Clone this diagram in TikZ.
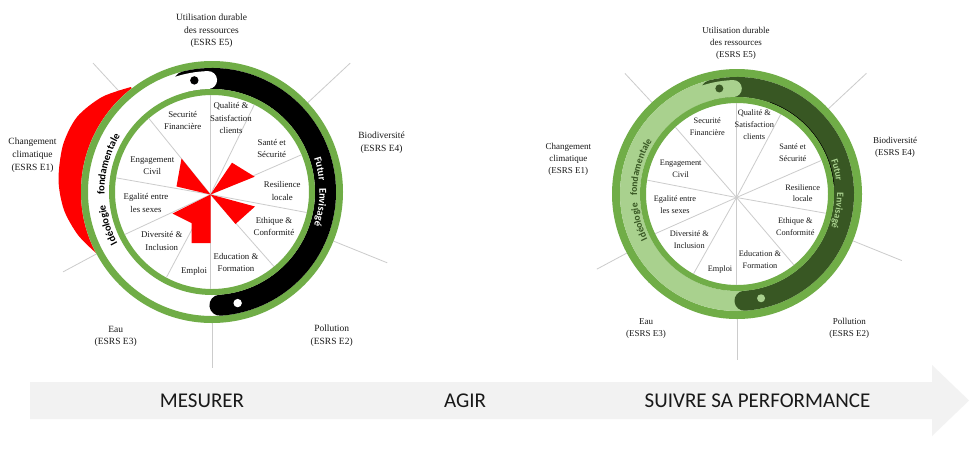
\documentclass[tikz,border=0pt]{standalone}
\usepackage{fontspec}
\setmainfont{Liberation Serif}
\newfontfamily\carl{Carlito}
\usetikzlibrary{decorations.text,calc}
\definecolor{ringgreen}{RGB}{112,173,71}
\definecolor{lightband}{RGB}{169,209,142}
\definecolor{darkband}{RGB}{56,87,35}
\definecolor{spokecol}{RGB}{204,204,204}
\definecolor{arrowfill}{RGB}{242,242,242}
\definecolor{inktext}{RGB}{25,25,25}
\newcommand\bandfA{\carl\bfseries\fontsize{10.5}{12}\selectfont}
\newcommand\bandfB{\carl\bfseries\fontsize{9.8}{12}\selectfont}
\tikzset{
 spokeline/.style={draw=spokecol, line width=0.8pt},
 esrsA/.style={align=center, inner sep=0pt, text=inktext, font=\fontsize{9.5}{12.7}\selectfont},
 esrsB/.style={align=center, inner sep=0pt, text=inktext, font=\fontsize{9}{12}\selectfont},
 innA/.style={align=center, inner sep=0pt, text=inktext, font=\fontsize{8.8}{12.4}\selectfont},
 innB/.style={align=center, inner sep=0pt, text=inktext, font=\fontsize{8.3}{11.8}\selectfont},
 stage/.style={inner sep=0pt, text=inktext, font=\carl\fontsize{21}{24}\selectfont},
}
\begin{document}
\begin{tikzpicture}[x=1pt,y=1pt]
\useasboundingbox (0,0) rectangle (980,-448);
\fill[white] (0,0) rectangle (980,-448);

%% ================= LEFT WHEEL =================
\coordinate (L) at (212,-192);
\coordinate (Ls) at (210.5,-194.5);
\foreach \a/\r in {132.7/175.5,43/189,-22/189,208.2/169,270/176}
  \draw[spokeline] (L) -- ++(\a:\r);
% red crescent
\fill[red] plot[smooth] coordinates {(131,-87) (102,-97) (77,-117) (63,-145) (58.5,-180) (64,-210) (78,-235) (96,-253)} -- (180,-190) -- cycle;
\fill[white] (L) circle (131);
\draw[ringgreen, line width=7pt] (L) circle (127.5);
% snake band
\draw[black, line width=21pt, line cap=round] ($(L)+(104:113.5)$) arc[start angle=104, end angle=-86, radius=113.5];
\draw[white, line width=18pt, line cap=round] ($(L)+(125:112)$) arc[start angle=125, end angle=92, radius=112];
\fill[black] ($(L)+(99:113)$) circle (4.2);
\fill[white] ($(L)+(-77:114)$) circle (4.2);
\draw[ringgreen, line width=6pt] (L) circle (100);
% spokes
\begin{scope}
\clip (L) circle (97);
\foreach \a in {90,64,23.6,-10.6,-48.6,-90,-118,-155,170,129}
  \draw[spokeline] (Ls) -- ++(\a:120);
\end{scope}
% red chart
\fill[red] (Ls) -- (181.5,-158.5) -- (176.5,-186.5) -- cycle;
\fill[red] (Ls) -- (232,-162.7) -- (254.7,-176.7) -- cycle;
\fill[red] (Ls) -- (255,-206.5) -- (235.5,-224) -- cycle;
\fill[red] (Ls) -- (172.5,-213.5) -- (191.5,-223) -- (191.5,-243) -- (210.5,-243) -- cycle;
% outer labels
\node[esrsA] (utilL) at (211.5,-31) {Utilisation durable\\des ressources\\(ESRS E5)};
\node[esrsA] (bioL) at (381.5,-142.5) {Biodiversité\\(ESRS E4)};
\node[esrsA] (chgL) at (32.5,-155.3) {Changement\\climatique\\(ESRS E1)};
\node[esrsA] (eauL) at (115.7,-336.3) {Eau\\(ESRS E3)};
\node[esrsA] (polL) at (331.7,-335.7) {Pollution\\(ESRS E2)};
% inner labels
\node[innA] (qualL) at (231,-118.3) {Qualité \&\\Satisfaction\\clients};
\node[innA] (secL) at (182.7,-120.7) {Securité\\Financière};
\node[innA] (santL) at (271.7,-148.3) {Santé et\\Sécurité};
\node[innA] (engL) at (152.3,-165.5) {Engagement\\Civil};
\node[innA] (resL) at (282.3,-190.8) {Resilience\\locale};
\node[innA] (egaL) at (146,-203) {Egalité entre\\les sexes};
\node[innA] (ethL) at (274,-226.2) {Ethique \&\\Conformité};
\node[innA] (divL) at (161.7,-240.8) {Diversité \&\\Inclusion};
\node[innA] (eduL) at (236,-262.2) {Education \&\\Formation};
\node[innA] (empL) at (194,-271.7) {Emploi};
% band texts
\path[decorate, decoration={text along path, text={|\bandfA|Idéologie}, text align=center, text color=black}]
  ($(L)+(232.7:107.5)$) arc[start angle=232.7, end angle=162.7, radius=107.5];
\path[decorate, decoration={text along path, text={|\bandfA|fondamentale}, text align=center, text color=black}]
  ($(L)+(205:107.5)$) arc[start angle=205, end angle=125, radius=107.5];
\path[decorate, decoration={text along path, text={|\bandfA|Futur}, text align=center, text color=white}]
  ($(L)+(47:107.5)$) arc[start angle=47, end angle=-23, radius=107.5];
\path[decorate, decoration={text along path, text={|\bandfA|Envisagé}, text align=center, text color=white}]
  ($(L)+(27:107.5)$) arc[start angle=27, end angle=-43, radius=107.5];

%% ================= RIGHT WHEEL =================
\coordinate (R) at (737,-194);
\coordinate (Rs) at (736.5,-197.5);
\foreach \a/\r in {132.9/164.6,43/177,-22/177.7,208.2/159,270/166}
  \draw[spokeline] (R) -- ++(\a:\r);
\fill[white] (R) circle (125);
\draw[ringgreen, line width=8pt] (R) circle (121);
\draw[lightband, line width=20pt] (R) circle (107);
\draw[darkband, line width=20pt, line cap=round] ($(R)+(104:107)$) arc[start angle=104, end angle=-86, radius=107];
\draw[lightband, line width=17pt, line cap=round] ($(R)+(125:105.5)$) arc[start angle=125, end angle=92, radius=105.5];
\fill[darkband] ($(R)+(99.5:107)$) circle (4);
\fill[lightband] ($(R)+(-77:107)$) circle (4);
\draw[black, line width=0.7pt] ($(R)+(70:97.4)$) arc[start angle=70, end angle=5, radius=97.4];
\draw[ringgreen, line width=6pt] (R) circle (94);
\begin{scope}
\clip (R) circle (91);
\foreach \a in {90,62,23.6,-10,-49.6,-90,-119.4,-156,169,131}
  \draw[spokeline] (Rs) -- ++(\a:120);
\end{scope}
% outer labels
\node[esrsB] (utilR) at (736,-43) {Utilisation durable\\des ressources\\(ESRS E5)};
\node[esrsB] (bioR) at (895,-147.5) {Biodiversité\\(ESRS E4)};
\node[esrsB] (chgR) at (568.3,-159.2) {Changement\\climatique\\(ESRS E1)};
\node[esrsB] (eauR) at (646,-328.5) {Eau\\(ESRS E3)};
\node[esrsB] (polR) at (849.3,-328.3) {Pollution\\(ESRS E2)};
% inner labels
\node[innB] (qualR) at (754.3,-124.8) {Qualité \&\\Satisfaction\\clients};
\node[innB] (secR) at (707.3,-126.3) {Securité\\Financière};
\node[innB] (santR) at (792.7,-152.5) {Santé et\\Sécurité};
\node[innB] (engR) at (680.7,-168.7) {Engagement\\Civil};
\node[innB] (resR) at (802.7,-193.2) {Resilience\\locale};
\node[innB] (egaR) at (675,-204.8) {Egalité entre\\les sexes};
\node[innB] (ethR) at (795.3,-226.5) {Ethique \&\\Conformité};
\node[innB] (divR) at (689.3,-240) {Diversité \&\\Inclusion};
\node[innB] (eduR) at (760,-259.3) {Education \&\\Formation};
\node[innB] (empR) at (720,-269.3) {Emploi};
% band texts
\path[decorate, decoration={text along path, text={|\bandfB|Idéologie}, text align=center, text color=darkband}]
  ($(R)+(231:100)$) arc[start angle=231, end angle=161, radius=100];
\path[decorate, decoration={text along path, text={|\bandfB|fondamentale}, text align=center, text color=darkband}]
  ($(R)+(204.5:100)$) arc[start angle=204.5, end angle=124.5, radius=100];
\path[decorate, decoration={text along path, text={|\bandfB|Futur}, text align=center, text color=lightband}]
  ($(R)+(48.5:100)$) arc[start angle=48.5, end angle=-21.5, radius=100];
\path[decorate, decoration={text along path, text={|\bandfB|Envisagé}, text align=center, text color=lightband}]
  ($(R)+(25.5:100)$) arc[start angle=25.5, end angle=-44.5, radius=100];

%% ================= ARROW =================
\fill[arrowfill] (30,-382) -- (932,-382) -- (932,-365) -- (969,-400.5) -- (932,-436) -- (932,-419) -- (30,-419) -- cycle;
\node[stage] (mesurer) at (202,-400.5) {MESURER};
\node[stage] (agir) at (465,-400.5) {AGIR};
\node[stage] (suivre) at (757.5,-400.5) {SUIVRE SA PERFORMANCE};
\end{tikzpicture}
\end{document}
